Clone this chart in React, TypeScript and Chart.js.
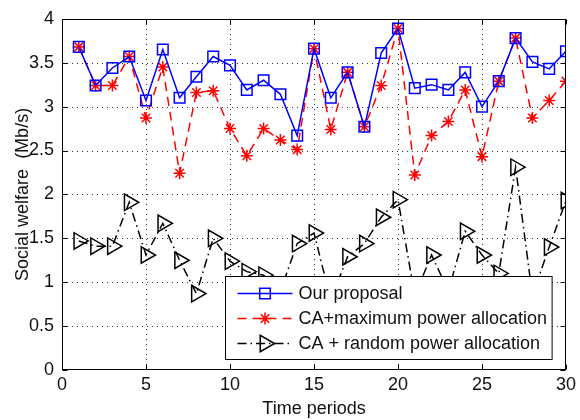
import { useEffect, useRef } from 'react';
import { Chart, registerables } from 'chart.js';

Chart.register(...registerables);

const periods = [1, 2, 3, 4, 5, 6, 7, 8, 9, 10, 11, 12, 13, 14, 15, 16, 17, 18, 19, 20, 21, 22, 23, 24, 25, 26, 27, 28, 29, 30];
const ourProposal = [3.68, 3.24, 3.44, 3.57, 3.07, 3.65, 3.10, 3.34, 3.57, 3.47, 3.19, 3.30, 3.14, 2.67, 3.66, 3.10, 3.39, 2.77, 3.61, 3.89, 3.21, 3.25, 3.19, 3.39, 3.00, 3.29, 3.78, 3.51, 3.43, 3.63];
const caMaxPower = [3.68, 3.24, 3.24, 3.57, 2.87, 3.45, 2.24, 3.16, 3.18, 2.75, 2.44, 2.75, 2.62, 2.51, 3.66, 2.74, 3.39, 2.77, 3.24, 3.89, 2.22, 2.67, 2.83, 3.19, 2.43, 3.29, 3.78, 2.87, 3.07, 3.29];
const caRandomPower = [1.47, 1.41, 1.41, 1.91, 1.31, 1.67, 1.25, 0.87, 1.50, 1.24, 1.12, 1.08, 0.90, 1.44, 1.56, 0.80, 1.29, 1.44, 1.74, 1.94, 0.85, 1.31, 0.90, 1.58, 1.31, 1.10, 2.31, 0.85, 1.40, 1.93];
const seriesLabels = ['Our proposal', 'CA+maximum power allocation', 'CA + random power allocation'];
const xTicks = [0, 5, 10, 15, 20, 25, 30];
const yTicks = [0, 0.5, 1, 1.5, 2, 2.5, 3, 3.5, 4];
const xTitle = 'Time periods';
const yTitle = 'Social welfare  (Mb/s)';

const FONT = "'Liberation Sans', Arial, Helvetica, sans-serif";

function drawMarker(ctx: CanvasRenderingContext2D, style: string, x: number, y: number, r: number, color: string, lw: number) {
  ctx.save();
  ctx.strokeStyle = color;
  ctx.lineWidth = lw;
  ctx.setLineDash([]);
  ctx.beginPath();
  if (style === 'rect') {
    const s = Math.SQRT1_2 * r;
    ctx.rect(x - s, y - s, 2 * s, 2 * s);
  } else if (style === 'star') {
    ctx.moveTo(x - r, y); ctx.lineTo(x + r, y);
    ctx.moveTo(x, y - r); ctx.lineTo(x, y + r);
    const d = r * Math.SQRT1_2;
    ctx.moveTo(x - d, y - d); ctx.lineTo(x + d, y + d);
    ctx.moveTo(x - d, y + d); ctx.lineTo(x + d, y - d);
  } else if (style === 'triangleRight') {
    ctx.moveTo(x + r, y);
    ctx.lineTo(x - 0.5 * r, y + 0.866 * r);
    ctx.lineTo(x - 0.5 * r, y - 0.866 * r);
    ctx.closePath();
  }
  ctx.stroke();
  ctx.restore();
}

const framePlugin = {
  id: 'frameAndLegend',
  beforeDatasetsDraw(chart: any) {
    const { ctx, chartArea, scales } = chart;
    const { left, right, top, bottom } = chartArea;
    ctx.save();
    ctx.strokeStyle = '#333';
    ctx.lineWidth = 1;
    ctx.setLineDash([1, 4]);
    ctx.beginPath();
    xTicks.forEach((v) => {
      const px = Math.round(scales.x.getPixelForValue(v)) + 0.5;
      if (px <= left + 2 || px >= right - 2) return;
      ctx.moveTo(px, bottom);
      ctx.lineTo(px, top);
    });
    yTicks.forEach((v) => {
      const py = Math.round(scales.y.getPixelForValue(v)) + 0.5;
      if (py <= top + 2 || py >= bottom - 2) return;
      ctx.moveTo(left, py);
      ctx.lineTo(right, py);
    });
    ctx.stroke();
    ctx.restore();
  },
  afterDatasetsDraw(chart: any) {
    const { ctx, chartArea, scales } = chart;
    const { left, right, top, bottom } = chartArea;

    // legend box inside plot area
    ctx.save();
    ctx.font = `18px ${FONT}`;
    const labels = chart.data.datasets.map((d: any) => d.label);
    const maxW = Math.max(...labels.map((t: string) => ctx.measureText(t).width));
    const boxW = 12 + 55 + 6 + maxW + 5;
    const boxH = 83;
    const bx = Math.round(right - 14 - boxW) + 0.5;
    const by = Math.round(bottom - 11 - boxH) + 0.5;
    ctx.fillStyle = '#ffffff';
    ctx.fillRect(bx, by, boxW, boxH);
    ctx.strokeStyle = '#000';
    ctx.lineWidth = 1;
    ctx.strokeRect(bx, by, boxW, boxH);
    const markerStyles = ['rect', 'star', 'triangleRight'];
    const markerSizes = [7.5, 6, 9.5];
    chart.data.datasets.forEach((ds: any, i: number) => {
      const cy = by + 17 + i * 25;
      const sx = bx + 12;
      ctx.save();
      ctx.strokeStyle = ds.borderColor;
      ctx.lineWidth = ds.borderWidth;
      ctx.setLineDash(ds.borderDash || []);
      ctx.beginPath();
      ctx.moveTo(sx, cy);
      ctx.lineTo(sx + 55, cy);
      ctx.stroke();
      ctx.restore();
      drawMarker(ctx, markerStyles[i], sx + 27.5, cy, markerSizes[i], ds.borderColor, ds.pointBorderWidth);
      ctx.fillStyle = '#111';
      ctx.textBaseline = 'middle';
      ctx.textAlign = 'left';
      ctx.fillText(ds.label, sx + 61, cy + 1);
    });
    ctx.restore();

    // axes box and inward ticks
    ctx.save();
    ctx.strokeStyle = '#000';
    ctx.lineWidth = 1;
    const L = Math.round(left) + 0.5, R = Math.round(right) - 0.5, T = Math.round(top) + 0.5, B = Math.round(bottom) - 0.5;
    ctx.strokeRect(L, T, R - L, B - T);
    ctx.beginPath();
    xTicks.forEach((v) => {
      const px = Math.round(scales.x.getPixelForValue(v)) + 0.5;
      ctx.moveTo(px, B); ctx.lineTo(px, B - 5);
      ctx.moveTo(px, T); ctx.lineTo(px, T + 5);
    });
    yTicks.forEach((v) => {
      const py = Math.round(scales.y.getPixelForValue(v)) + 0.5;
      ctx.moveTo(L, py); ctx.lineTo(L + 5, py);
      ctx.moveTo(R, py); ctx.lineTo(R - 5, py);
    });
    ctx.stroke();
    ctx.restore();
  },
};

export default function App() {
  const ref = useRef<HTMLCanvasElement | null>(null);
  useEffect(() => {
    if (!ref.current) return;
    const chart = new Chart(ref.current, {
      type: 'line',
      data: {
        datasets: [
          {
            label: seriesLabels[0],
            data: periods.map((p, i) => ({ x: p, y: ourProposal[i] })),
            borderColor: '#0000ff',
            backgroundColor: 'rgba(0,0,0,0)',
            borderWidth: 1.5,
            pointStyle: 'rect',
            pointRadius: 7.5,
            pointBorderWidth: 1.5,
            pointBorderColor: '#0000ff',
            pointBackgroundColor: 'rgba(0,0,0,0)',
            tension: 0,
          },
          {
            label: seriesLabels[1],
            data: periods.map((p, i) => ({ x: p, y: caMaxPower[i] })),
            borderColor: '#ff0000',
            backgroundColor: 'rgba(0,0,0,0)',
            borderWidth: 1.5,
            borderDash: [9, 6],
            pointStyle: 'star',
            pointRadius: 6,
            pointBorderWidth: 1.5,
            pointBorderColor: '#ff0000',
            pointBackgroundColor: 'rgba(0,0,0,0)',
            tension: 0,
          },
          {
            label: seriesLabels[2],
            data: periods.map((p, i) => ({ x: p, y: caRandomPower[i] })),
            borderColor: '#000000',
            backgroundColor: 'rgba(0,0,0,0)',
            borderWidth: 1.5,
            borderDash: [9, 4, 1.5, 4],
            pointStyle: 'triangle',
            pointRotation: 90,
            pointRadius: 9.5,
            pointBorderWidth: 1.5,
            pointBorderColor: '#000000',
            pointBackgroundColor: 'rgba(0,0,0,0)',
            tension: 0,
          },
        ],
      },
      options: {
        responsive: false,
        animation: false,
        devicePixelRatio: 1,
        layout: { padding: { top: 14, right: 13, left: 0, bottom: 0 } },
        plugins: { legend: { display: false }, tooltip: { enabled: false } },
        scales: {
          x: {
            type: 'linear',
            min: 0,
            max: 30,
            afterBuildTicks: (s: any) => { s.ticks = xTicks.map((v) => ({ value: v })); },
            afterFit: (s: any) => { s.height = 50; },
            grid: { display: false, drawTicks: false },
            border: { display: false },
            ticks: { color: '#111', font: { family: FONT, size: 18 }, padding: 4, maxRotation: 0, autoSkip: false, callback: (v: any) => String(v) },
            title: { display: true, text: xTitle, color: '#111', font: { family: FONT, size: 18 }, padding: { top: 0, bottom: 0 } },
          },
          y: {
            type: 'linear',
            min: 0,
            max: 4,
            afterBuildTicks: (s: any) => { s.ticks = yTicks.map((v) => ({ value: v })); },
            afterFit: (s: any) => { s.width = 62; },
            grid: { display: false, drawTicks: false },
            border: { display: false },
            ticks: { color: '#111', font: { family: FONT, size: 18 }, padding: 8, autoSkip: false, callback: (v: any) => String(v) },
            title: { display: true, text: yTitle, color: '#111', font: { family: FONT, size: 18 }, padding: { top: 12, bottom: 0 } },
          },
        },
      },
      plugins: [framePlugin],
    });
    return () => chart.destroy();
  }, []);
  return (
    <div style={{ position: 'fixed', left: 0, top: 0, width: 580, height: 420, background: '#fff' }}>
      <canvas ref={ref} width={580} height={420} />
    </div>
  );
}
